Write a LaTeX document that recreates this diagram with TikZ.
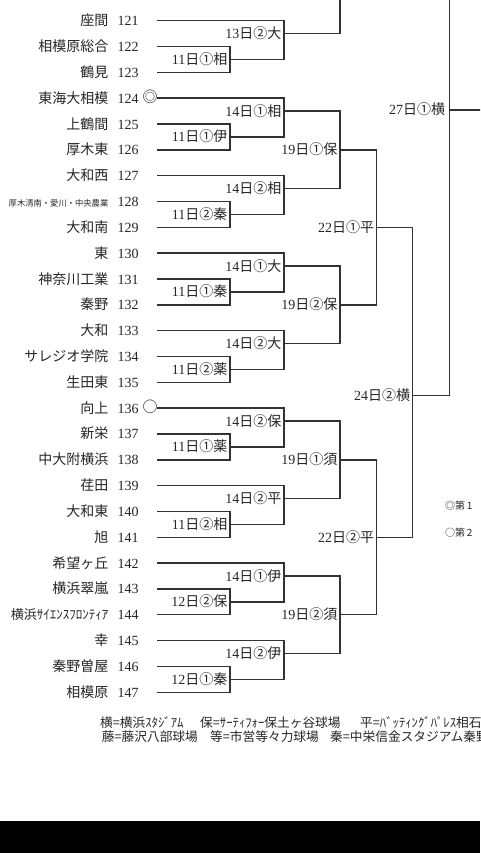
\documentclass[tikz,border=0pt]{standalone}
\usepackage{fontspec}
\setmainfont{Liberation Serif}
\newfontfamily\jp{Noto Sans CJK JP}
\newcommand\rdlab[2]{#1{\jp #2}}
\tikzset{
  txt/.style={inner sep=0pt, text=black!85, text height=10pt, text depth=0pt},
  team/.style={txt, anchor=east, font=\jp\fontsize{14}{14}\selectfont},
  num/.style={txt, anchor=west, font=\fontsize{14}{14}\selectfont},
  sym/.style={txt, anchor=center, font=\jp\fontsize{15}{15}\selectfont},
  rlab/.style={txt, anchor=east, xshift=-2.5pt, font=\fontsize{14}{14}\selectfont},
  legend/.style={inner sep=0pt, text=black!85, text height=8.5pt, text depth=0pt, anchor=west, font=\jp\fontsize{12.7}{12.7}\selectfont},
  note/.style={inner sep=0pt, text=black!85, text height=7pt, text depth=0pt, anchor=west, font=\jp\fontsize{10}{10}\selectfont},
  br/.style={draw=black!80, line width=1.4pt},
}
\begin{document}
\begin{tikzpicture}[x=1pt,y=-1pt]
\useasboundingbox (0,0) rectangle (480,853);
\clip (0,0) rectangle (480,853);
\fill[white] (0,0) rectangle (480,853);

% teams
\foreach \nm [count=\k from 0] in {座間,相模原総合,鶴見,東海大相模,上鶴間,厚木東,大和西,{\fontsize{8.3}{8.3}\selectfont 厚木清南・愛川・中央農業},大和南,東,神奈川工業,秦野,大和,サレジオ学院,生田東,向上,新栄,中大附横浜,荏田,大和東,旭,希望ヶ丘,横浜翠嵐,{\fontsize{13}{13}\selectfont 横浜ｻｲｴﾝｽﾌﾛﾝﾃｨｱ},幸,秦野曽屋,相模原}{
  \pgfmathsetmacro\yy{20.7+25.83*\k}
  \pgfmathtruncatemacro\nn{121+\k}
  \node[team] (name\nn) at (108.5,\yy) {\nm};
  \node[num] (num\nn) at (117.5,\yy) {\nn};
  \coordinate (t\nn) at (157,\yy);
}
\node[sym] (mk124) at ([xshift=-7pt,yshift=0.5pt]t124) {◎};
\node[sym] (mk136) at ([xshift=-7pt,yshift=0.5pt]t136) {○};

% bracket coordinates
\coordinate (fA) at (230,59.445);  \coordinate (sA) at (284,33.615);
\coordinate (fB) at (230,136.935); \coordinate (sB) at (284,111.105);
\coordinate (fC) at (230,214.425); \coordinate (sC) at (284,188.595);
\coordinate (hA) at (340,149.85);
\coordinate (fD) at (230,291.915); \coordinate (sD) at (284,266.085);
\coordinate (fE) at (230,369.405); \coordinate (sE) at (284,343.575);
\coordinate (hB) at (340,304.83);
\coordinate (qA) at (376.7,227.34);
\coordinate (fF) at (230,446.895); \coordinate (sF) at (284,421.065);
\coordinate (fG) at (230,524.385); \coordinate (sG) at (284,498.555);
\coordinate (hC) at (340,459.81);
\coordinate (fH) at (230,601.875); \coordinate (sH) at (284,576.045);
\coordinate (fI) at (230,679.365); \coordinate (sI) at (284,653.535);
\coordinate (hD) at (340,614.79);
\coordinate (qB) at (376.7,537.3);
\coordinate (semi) at (412.7,395.7);
\coordinate (fin) at (449.3,110);
\coordinate (topH) at (340,-10);
\coordinate (topF) at (449.3,-10);
\coordinate (finR) at (490,110);

% brackets
\draw[br] (t121) -| (sA) |- (fA);
\draw[br] (t122) -| (fA) |- (t123);
\draw[br] (sA) -| (topH);
\draw[br] (t124) -| (sB) |- (fB);
\draw[br] (t125) -| (fB) |- (t126);
\draw[br] (t127) -| (sC) |- (fC);
\draw[br] (t128) -| (fC) |- (t129);
\draw[br] (sB) -| (hA) |- (sC);
\draw[br] (t130) -| (sD) |- (fD);
\draw[br] (t131) -| (fD) |- (t132);
\draw[br] (t133) -| (sE) |- (fE);
\draw[br] (t134) -| (fE) |- (t135);
\draw[br] (sD) -| (hB) |- (sE);
\draw[br] (hA) -| (qA) |- (hB);
\draw[br] (t136) -| (sF) |- (fF);
\draw[br] (t137) -| (fF) |- (t138);
\draw[br] (t139) -| (sG) |- (fG);
\draw[br] (t140) -| (fG) |- (t141);
\draw[br] (sF) -| (hC) |- (sG);
\draw[br] (t142) -| (sH) |- (fH);
\draw[br] (t143) -| (fH) |- (t144);
\draw[br] (t145) -| (sI) |- (fI);
\draw[br] (t146) -| (fI) |- (t147);
\draw[br] (sH) -| (hD) |- (sI);
\draw[br] (hC) -| (qB) |- (hD);
\draw[br] (qA) -| (semi) |- (qB);
\draw[br] (topF) |- (semi);
\draw[br] (fin) -- (finR);

% round labels
\node[rlab] (lfA) at (fA) {\rdlab{11}{日①相}};
\node[rlab] (lsA) at (sA) {\rdlab{13}{日②大}};
\node[rlab] (lfB) at (fB) {\rdlab{11}{日①伊}};
\node[rlab] (lsB) at (sB) {\rdlab{14}{日①相}};
\node[rlab] (lfC) at (fC) {\rdlab{11}{日②秦}};
\node[rlab] (lsC) at (sC) {\rdlab{14}{日②相}};
\node[rlab] (lhA) at (hA) {\rdlab{19}{日①保}};
\node[rlab] (lfD) at (fD) {\rdlab{11}{日①秦}};
\node[rlab] (lsD) at (sD) {\rdlab{14}{日①大}};
\node[rlab] (lfE) at (fE) {\rdlab{11}{日②薬}};
\node[rlab] (lsE) at (sE) {\rdlab{14}{日②大}};
\node[rlab] (lhB) at (hB) {\rdlab{19}{日②保}};
\node[rlab] (lqA) at (qA) {\rdlab{22}{日①平}};
\node[rlab] (lfF) at (fF) {\rdlab{11}{日①薬}};
\node[rlab] (lsF) at (sF) {\rdlab{14}{日②保}};
\node[rlab] (lfG) at (fG) {\rdlab{11}{日②相}};
\node[rlab] (lsG) at (sG) {\rdlab{14}{日②平}};
\node[rlab] (lhC) at (hC) {\rdlab{19}{日①須}};
\node[rlab] (lfH) at (fH) {\rdlab{12}{日②保}};
\node[rlab] (lsH) at (sH) {\rdlab{14}{日①伊}};
\node[rlab] (lfI) at (fI) {\rdlab{12}{日①秦}};
\node[rlab] (lsI) at (sI) {\rdlab{14}{日②伊}};
\node[rlab] (lhD) at (hD) {\rdlab{19}{日②須}};
\node[rlab] (lqB) at (qB) {\rdlab{22}{日②平}};
\node[rlab] (lsemi) at (semi) {\rdlab{24}{日②横}};
\node[rlab, xshift=-1.5pt] (lfin) at (fin) {\rdlab{27}{日①横}};

% notes
\node[note] (note1) at (445,505.7) {◎第\,1};
\node[note] (note2) at (445,533) {○第\,2};

% legend
\node[legend] (lg1) at (100,723.3) {横=横浜ｽﾀｼﾞｱﾑ};
\node[legend] (lg2) at (200,723.3) {保=ｻｰﾃｨﾌｫｰ保土ヶ谷球場};
\node[legend] (lg3) at (360,723.3) {平=ﾊﾞｯﾃｨﾝｸﾞﾊﾟﾚｽ相石};
\node[legend] (lg4) at (101.7,737.5) {藤=藤沢八部球場};
\node[legend] (lg5) at (210,737.5) {等=市営等々力球場};
\node[legend] (lg6) at (330,737.5) {秦=中栄信金スタジアム秦野};

% bottom band
\fill[black] (0,821) rectangle (480,853);
\end{tikzpicture}
\end{document}
